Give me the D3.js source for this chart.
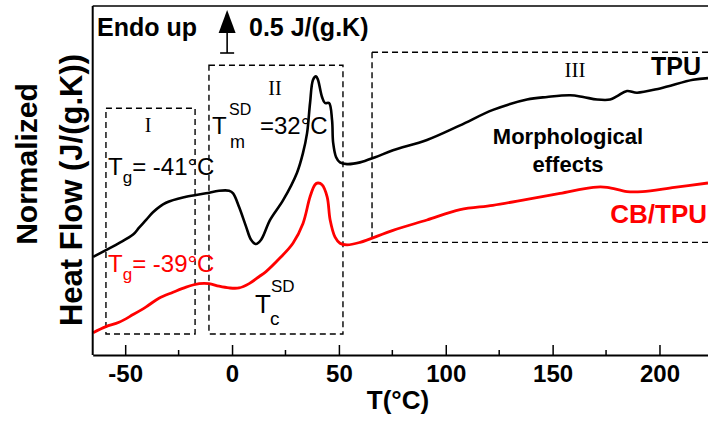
<!DOCTYPE html>
<html><head><meta charset="utf-8">
<script src="https://cdn.jsdelivr.net/npm/d3@7/dist/d3.min.js"></script>
<style>
html,body{margin:0;padding:0;background:#fff;}
svg{display:block;}
text{font-family:"Liberation Sans", Arial, sans-serif;}
.serif{font-family:"Liberation Serif","Times New Roman",serif;}
</style></head>
<body>
<svg id="chart" width="708" height="421"></svg>
<script>
// ---- data (T in °C, normalized heat flow in J/(g.K), arbitrary offset) ----
const tpuT = [-65.0,-59.0,-52.9,-46.3,-43.5,-40.2,-37.0,-30.9,-21.5,-12.2,-6.1,-1.4,0.5,3.3,6.6,8.9,11.2,13.6,17.8,23.9,30.4,33.2,35.1,36.5,37.9,39.3,40.2,42.1,43.5,45.4,46.8,47.3,48.7,50.5,53.8,59.9,67.0,75.3,91.2,106.7,122.1,138.0,147.4,158.2,164.3,170.8,176.9,180.2,184.8,189.5,200.3,215.7,222.7];
const tpuHF = [1.14,1.22,1.30,1.40,1.48,1.57,1.66,1.77,1.84,1.88,1.91,1.91,1.88,1.72,1.49,1.34,1.29,1.34,1.57,1.80,2.12,2.35,2.58,2.93,3.20,3.24,3.20,3.00,2.93,2.93,2.73,2.47,2.30,2.24,2.22,2.24,2.30,2.38,2.50,2.67,2.85,2.97,3.00,3.02,3.00,2.97,2.97,3.01,3.07,3.05,3.10,3.20,3.22];
const cbT = [-65.0,-59.0,-52.9,-46.3,-40.2,-34.2,-27.6,-21.5,-15.4,-10.8,-6.1,-1.4,3.3,8.0,12.6,15.9,22.5,28.5,33.2,36.5,38.8,40.2,42.1,44.5,45.9,48.2,50.5,53.8,59.9,75.3,91.2,106.7,122.0,138.0,153.5,169.0,175.5,184.8,192.0,207.0,222.7];
const cbHF = [0.26,0.33,0.38,0.47,0.56,0.66,0.73,0.79,0.83,0.83,0.80,0.78,0.78,0.83,0.91,0.97,1.13,1.30,1.53,1.84,1.98,2.00,1.98,1.84,1.57,1.37,1.30,1.28,1.31,1.45,1.57,1.69,1.74,1.81,1.88,1.95,1.95,1.90,1.90,1.95,2.00];
const majorTicks = [-50, 0, 50, 100, 150, 200];
const minorTicks = [-25, 25, 75, 125, 175];
// region boxes [T0, T1, HFbottom, HFtop]
const regionI = [-59.0, -17.3, 0.244, 2.87];
const regionII = [-10.8, 51.9, 0.244, 3.37];
const regionIII = [65.5, 240, 1.31, 3.52];

const svg = d3.select("#chart");
const L = 92.7, R = 708, T = 6, B = 355;
const x = d3.scaleLinear().domain([-65.2, 222.7]).range([L, R]);
const y = d3.scaleLinear().domain([0, (B - T) / 86]).range([B, T]);

svg.append("defs").append("clipPath").attr("id","clip")
  .append("rect").attr("x", L).attr("y", T).attr("width", R - L).attr("height", B - T);

// dashed region boxes
const boxes = svg.append("g").attr("clip-path","url(#clip)");
[regionI, regionII, regionIII].forEach(b => {
  boxes.append("rect")
    .attr("x", x(b[0])).attr("y", y(b[3]))
    .attr("width", x(b[1]) - x(b[0])).attr("height", y(b[2]) - y(b[3]))
    .attr("fill","none").attr("stroke","#000").attr("stroke-width",1.4)
    .attr("stroke-dasharray","6,4");
});

// curves
const line = d3.line().curve(d3.curveCatmullRom.alpha(0.5));
const plot = svg.append("g").attr("clip-path","url(#clip)");
plot.append("path")
  .attr("d", line(tpuT.map((t,i)=>[x(t), y(tpuHF[i])])))
  .attr("fill","none").attr("stroke","#000").attr("stroke-width",2.6).attr("stroke-linejoin","round");
plot.append("path")
  .attr("d", line(cbT.map((t,i)=>[x(t), y(cbHF[i])])))
  .attr("fill","none").attr("stroke","#ff0000").attr("stroke-width",2.8).attr("stroke-linejoin","round");

// frame
svg.append("line").attr("x1",L).attr("x2",L).attr("y1",T).attr("y2",B).attr("stroke","#000").attr("stroke-width",2);
svg.append("line").attr("x1",L).attr("x2",R).attr("y1",T).attr("y2",T).attr("stroke","#000").attr("stroke-width",1.5);

// x axis
const ax = svg.append("g").attr("transform",`translate(0,${B})`)
  .call(d3.axisBottom(x).tickValues(majorTicks).tickSizeInner(-10).tickSizeOuter(0).tickFormat(d => String(d)));
ax.select(".domain").attr("stroke-width",2);
ax.selectAll(".tick line").attr("stroke-width",1.5);
ax.selectAll("text").attr("y",27).attr("dy",null)
  .attr("font-family",'"Liberation Sans", Arial, sans-serif').attr("font-size",24).attr("font-weight","bold").attr("fill","#000");
svg.append("g").attr("transform",`translate(0,${B})`)
  .selectAll("line").data(minorTicks).join("line")
  .attr("x1", d => x(d)).attr("x2", d => x(d)).attr("y1",0).attr("y2",-5)
  .attr("stroke","#000").attr("stroke-width",1.5);

// axis titles
svg.append("text").attr("x",398).attr("y",409).attr("text-anchor","middle")
  .attr("font-size",26).attr("font-weight","bold").text("T(°C)");
svg.append("text").attr("transform","translate(37,164) rotate(-90)").attr("text-anchor","middle")
  .attr("font-size",30).attr("font-weight","bold").text("Normalized");
svg.append("text").attr("transform","translate(82,190) rotate(-90)").attr("text-anchor","middle")
  .attr("font-size",31).attr("font-weight","bold").text("Heat Flow (J/(g.K))");

// scale bar
const sx = x(-2.3);
svg.append("path").attr("d",`M${sx},10 L${sx-8.5},33 L${sx+8.5},33 Z`).attr("fill","#000");
svg.append("line").attr("x1",sx).attr("x2",sx).attr("y1",30).attr("y2",53).attr("stroke","#000").attr("stroke-width",1.6);
svg.append("line").attr("x1",sx-7).attr("x2",sx+7).attr("y1",53).attr("y2",53).attr("stroke","#000").attr("stroke-width",1.6);
svg.append("text").attr("x",97).attr("y",36).attr("font-size",25).attr("font-weight","bold").text("Endo up");
svg.append("text").attr("x",249).attr("y",36).attr("font-size",25).attr("font-weight","bold").text("0.5 J/(g.K)");

// roman numerals
svg.append("text").attr("class","serif").attr("x",148).attr("y",132).attr("text-anchor","middle").attr("font-size",20).text("I");
svg.append("text").attr("class","serif").attr("x",275).attr("y",95).attr("text-anchor","middle").attr("font-size",20).text("II");
svg.append("text").attr("class","serif").attr("x",575).attr("y",77).attr("text-anchor","middle").attr("font-size",21).text("III");

// Tg labels
function tg(xp, yp, rest, color){
  const t = svg.append("text").attr("x",xp).attr("y",yp).attr("font-size",24).attr("fill",color);
  t.append("tspan").text("T");
  t.append("tspan").attr("font-size",17).attr("dy",8).text("g");
  t.append("tspan").attr("dy",-8).text(rest);
}
tg(108,175,"= -41°C","#000");
tg(108,272,"= -39°C","#ff0000");

// Tm SD
svg.append("text").attr("x",212).attr("y",134).attr("font-size",24).text("T");
svg.append("text").attr("x",229).attr("y",115).attr("font-size",16).text("SD");
svg.append("text").attr("x",230).attr("y",148).attr("font-size",18).text("m");
svg.append("text").attr("x",260).attr("y",134).attr("font-size",24).text("=32°C");
// Tc SD
svg.append("text").attr("x",255).attr("y",313).attr("font-size",26).text("T");
svg.append("text").attr("x",271).attr("y",292).attr("font-size",17).text("SD");
svg.append("text").attr("x",270).attr("y",325).attr("font-size",19).text("c");

// series labels
svg.append("text").attr("x",701).attr("y",75).attr("text-anchor","end").attr("font-size",25).attr("font-weight","bold").text("TPU");
svg.append("text").attr("x",707).attr("y",223).attr("text-anchor","end").attr("font-size",26).attr("font-weight","bold").attr("fill","#ff0000").text("CB/TPU");
svg.append("text").attr("x",568).attr("y",144).attr("text-anchor","middle").attr("font-size",22).attr("font-weight","bold").text("Morphological");
svg.append("text").attr("x",568).attr("y",172).attr("text-anchor","middle").attr("font-size",22).attr("font-weight","bold").text("effects");
</script>
</body></html>
